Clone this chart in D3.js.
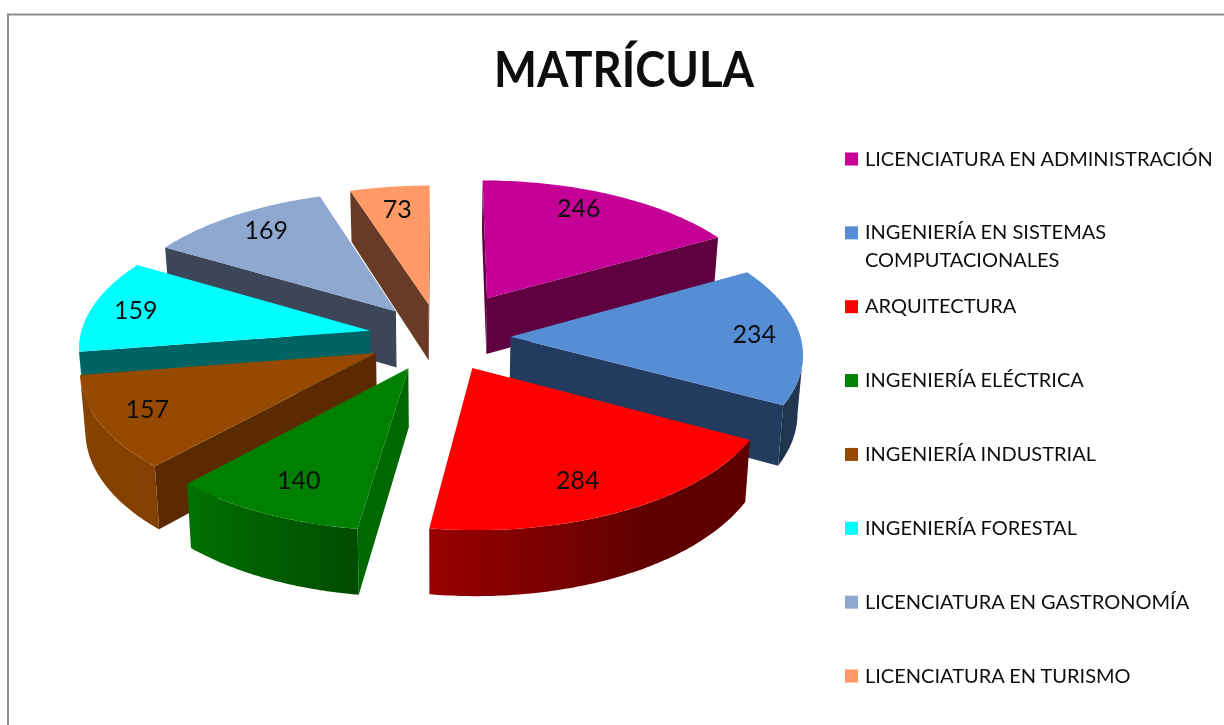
<!DOCTYPE html>
<html><head><meta charset="utf-8">
<script src="https://cdn.jsdelivr.net/npm/d3@7"></script>
<style>html,body{margin:0;padding:0;background:#fff;overflow:hidden}svg{display:block}</style>
</head><body><svg id="c" width="1224" height="725"></svg>
<script>
const titleText = "MATRÍCULA";
const categories = ["LICENCIATURA EN ADMINISTRACIÓN","INGENIERÍA EN SISTEMAS|COMPUTACIONALES","ARQUITECTURA","INGENIERÍA ELÉCTRICA","INGENIERÍA INDUSTRIAL","INGENIERÍA FORESTAL","LICENCIATURA EN GASTRONOMÍA","LICENCIATURA EN TURISMO"];
const values = [246,234,284,140,157,159,169,73];
const explosion = [0.335,0.245,0.245,0.245,0.245,0.245,0.245,0.245];
const topColors = ["#c40096","#558ed5","#ff0000","#008000","#964800","#00ffff","#8fa8d0","#ff9966"];
const sideColors = ["#5e0040","#223a5e","#5a0000","#006800","#5c2c00","#006464","#3d4558","#683a26"];
const labelNudge = [[-10,-6],[15,0],[-12,3],[2,1],[-13,2],[-15,0],[0,-3],[0,0]];

const svg = d3.select("#c");
const defs = svg.append("defs");
defs.append("filter").attr("id","soft").attr("x","-2%").attr("y","-2%").attr("width","104%").attr("height","104%")
  .append("feGaussianBlur").attr("stdDeviation",0.65);
const root = svg.append("g").attr("filter","url(#soft)");

root.append("path").attr("d","M8,725V14.5H1224").attr("fill","none").attr("stroke","#8c8c8c").attr("stroke-width",2);

root.append("text").attr("x",624).attr("y",87).attr("text-anchor","middle")
  .attr("font-family","Lato").attr("font-weight",700).attr("font-size",50)
  .attr("textLength",260).attr("lengthAdjust","spacingAndGlyphs").attr("fill","#0d0d0d").text(titleText);

const cx=439.5, cy=337, A=290, B=138, P=0.106, H=57.5;
function proj(X,Y,bottom){
  const f=1/(1-P*Y);
  let x=A*X*f, y=cy+B*Y*f;
  if(bottom){ x*=0.985; y+=H*f; }
  return [cx+x,y];
}
const pie=d3.pie().sort(null).startAngle(0).endAngle(2*Math.PI);
const arcs=pie(values).map((d,i)=>{
  const mid=(d.startAngle+d.endAngle)/2;
  const ox=explosion[i]*Math.sin(mid), oy=-explosion[i]*Math.cos(mid);
  return {i,a0:d.startAngle,a1:d.endAngle,mid,ox,oy,value:d.value};
});
const pt=(s,a,r,b)=>proj(s.ox+r*Math.sin(a),s.oy-r*Math.cos(a),b);
const line=d3.line();
const wallShade=d3.scaleLinear().domain([90,118,150,188,222,261,300]).range([0.42,0.37,0.38,0.6,0.88,0.9,0.9]).clamp(true);
const sliceLayer=root.append("g");

arcs.slice().sort((a,b)=>a.oy-b.oy).forEach(s=>{
  const g=sliceLayer.append("g");
  const base=d3.color(topColors[s.i]);
  const wall=(a,sign)=>{
    const q=[pt(s,a,0,false),pt(s,a,1,false),pt(s,a,1,true),pt(s,a,0,true)];
    const cross=(q[1][0]-q[0][0])*(q[2][1]-q[1][1])-(q[1][1]-q[0][1])*(q[2][0]-q[1][0]);
    if(cross*sign>0) g.append("path").attr("d",line(q)+"Z").attr("fill",sideColors[s.i]);
  };
  wall(s.a0,-1); wall(s.a1,1);

  const step=(s.a1-s.a0)/90;
  const angles=d3.range(0,91).map(j=>s.a0+j*step);
  const vis=angles.filter((t,j)=>{
    const a=pt(s,t,1,false)[0];
    const nb=j<90?pt(s,angles[j+1],1,false)[0]-a:a-pt(s,angles[j-1],1,false)[0];
    return nb<0;
  });
  if(vis.length>1){
    const tops=vis.map(t=>pt(s,t,1,false)), bots=vis.map(t=>pt(s,t,1,true));
    const xs=tops.map(p=>p[0]);
    const x0=d3.min(xs), x1=d3.max(xs);
    const grad=defs.append("linearGradient").attr("id","w"+s.i).attr("gradientUnits","userSpaceOnUse")
      .attr("x1",x0).attr("x2",x1).attr("y1",0).attr("y2",0);
    const stops=vis.map((t,j)=>({o:(xs[j]-x0)/(x1-x0),k:wallShade(t*180/Math.PI)})).sort((a,b)=>a.o-b.o);
    grad.selectAll("stop").data(stops).join("stop").attr("offset",d=>d.o)
      .attr("stop-color",d=>d3.rgb(base.r*d.k,base.g*d.k,base.b*d.k).formatHex());
    g.append("path").attr("d",line(tops.concat(bots.reverse()))+"Z").attr("fill",`url(#w${s.i})`);
  }

  const top=[pt(s,s.a0,0,false)];
  d3.range(0,61).forEach(j=>top.push(pt(s,s.a0+(s.a1-s.a0)*j/60,1,false)));
  g.append("path").attr("d",line(top)+"Z").attr("fill",topColors[s.i]);
});

root.append("g").selectAll("text").data(arcs).join("text")
  .attr("x",s=>pt(s,s.mid,0.79,false)[0]+labelNudge[s.i][0]).attr("y",s=>pt(s,s.mid,0.79,false)[1]+8+labelNudge[s.i][1])
  .attr("text-anchor","middle").attr("font-family","Lato").attr("font-size",25).attr("fill","#111")
  .text(s=>s.value);

const rows=d3.scalePoint().domain(categories).range([159,676]);
const lg=root.append("g").selectAll("g").data(categories).join("g")
  .attr("transform",d=>`translate(845,${rows(d)})`);
lg.append("rect").attr("x",0).attr("y",-6.5).attr("width",13).attr("height",13).attr("fill",(d,i)=>topColors[i]);
lg.append("text").attr("font-family","Lato").attr("font-size",20).attr("fill","#111").each(function(d){
  const parts=d.split("|");
  d3.select(this).selectAll("tspan").data(parts).join("tspan")
    .attr("x",20).attr("y",(p,j)=>6.5+j*28).text(p=>p);
});
</script></body></html>
